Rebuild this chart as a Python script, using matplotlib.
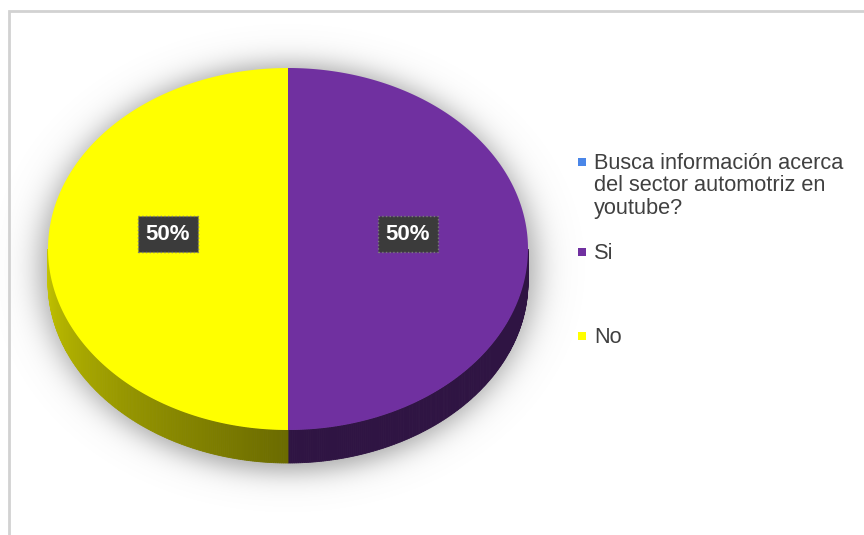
import numpy as np
import matplotlib
matplotlib.use("Agg")
import matplotlib.pyplot as plt
from matplotlib.patches import Polygon, Rectangle

plt.rcParams['font.family'] = ['Liberation Sans', 'DejaVu Sans']

# data (the first legend entry is the question header, it has no slice)
categories = ["Busca información acerca\ndel sector automotriz en\nyoutube?", "Si", "No"]
values = [0, 50, 50]
colors = ["#4A86E8", "#7030A0", "#FFFF00"]

W, H = 864, 535
fig = plt.figure(figsize=(W / 100, H / 100), dpi=100)
ax = fig.add_axes([0, 0, 1, 1])
ax.set_xlim(0, W)
ax.set_ylim(H, 0)
ax.axis("off")

# pie geometry (pixels)
cx, cy = 288, 249
rx, ry = 240, 181
depth = 33


def top(t):
	return cx + rx * np.cos(np.radians(t)), cy - ry * np.sin(np.radians(t))


def shade(c, f):
	rgb = np.array(matplotlib.colors.to_rgb(c))
	return tuple(np.clip(rgb * f, 0, 1))


# soft shadow under the pie
gx, gy = np.meshgrid(np.arange(W) + 0.5, np.arange(H) + 0.5)
d = np.sqrt(((gx - cx) / 248) ** 2 + ((gy - 268) / 204) ** 2)
sd = (d - 1) * 210
alpha = 0.7 / (1 + np.exp(sd / 8))
img = np.zeros((H, W, 4))
img[..., :3] = 0.5
img[..., 3] = alpha
ax.imshow(img, extent=(0, W, H, 0), zorder=1, interpolation="bilinear")

total = float(sum(values))
start = 90.0
slices = []
for cat, v, c in zip(categories, values, colors):
	if v <= 0:
		continue
	sweep = 360.0 * v / total
	slices.append((start - sweep, start, c, v))
	start -= sweep

# side walls (front half only)
for a, b, c, v in slices:
	for k in (-360, 0, 360):
		lo, hi = max(a + k, -180), min(b + k, 0)
		if hi <= lo:
			continue
		ts = np.linspace(lo, hi, int((hi - lo) * 2) + 2)
		for t0, t1 in zip(ts[:-1], ts[1:]):
			tm = 0.5 * (t0 + t1)
			f = 0.42 + 0.36 * np.clip((-90 - tm) / 90, 0, 1)
			x0, y0 = top(t0)
			x1, y1 = top(t1)
			quad = [(x0, y0), (x1, y1), (x1, y1 + depth), (x0, y0 + depth)]
			ax.add_patch(Polygon(quad, closed=True, facecolor=shade(c, f),
				edgecolor=shade(c, f), lw=0.6, zorder=2))

# top face
for a, b, c, v in slices:
	ts = np.linspace(a, b, 300)
	xs, ys = top(ts)
	pts = [(cx, cy)] + list(zip(xs, ys))
	ax.add_patch(Polygon(pts, closed=True, facecolor=c, edgecolor="none", zorder=3))

# percentage labels
for a, b, c, v in slices:
	tm = np.radians(0.5 * (a + b))
	lx = cx + 0.5 * rx * np.cos(tm)
	ly = cy - 0.5 * ry * np.sin(tm) - 15
	ax.text(lx, ly, "{:.0f}%".format(100 * v / total), color="white", fontsize=16,
		fontweight="bold", ha="center", va="center", zorder=5,
		bbox=dict(boxstyle="square,pad=0.35", facecolor="#3b3b3b",
			edgecolor="#7a7a7a", linestyle=":", lw=1))

# legend
legend_y = [162, 252, 336]
for cat, c, yy in zip(categories, colors, legend_y):
	ax.add_patch(Rectangle((578, yy - 4), 8, 8, facecolor=c, edgecolor="none", zorder=4))
	ax.text(594, yy - 9, cat, fontsize=15.7, color="#404040", ha="left", va="top",
		linespacing=1.08, zorder=4)

# chart border
ax.plot([8.5, 8.5, W], [H, 10.5, 10.5], color="#d2d2d2", lw=2, zorder=6,
	solid_joinstyle="miter")

fig.savefig("out.png", dpi=100)
